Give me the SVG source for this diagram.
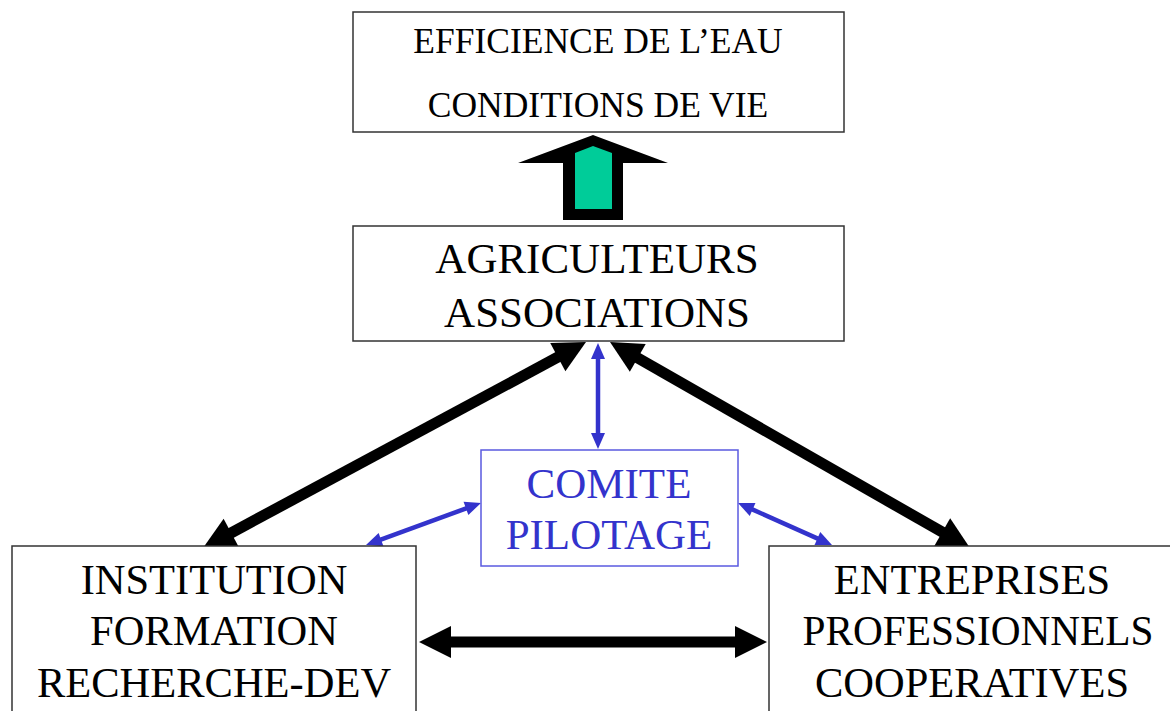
<svg xmlns="http://www.w3.org/2000/svg" width="1170" height="711" viewBox="0 0 1170 711">
<style>
.box{fill:#fff;stroke:#333;stroke-width:1.5}
.bbox{fill:#fff;stroke:#5a5ae0;stroke-width:1.5}
.t{font-family:"Liberation Serif","Times New Roman",serif;fill:#000;text-anchor:middle}
.tb{font-family:"Liberation Serif","Times New Roman",serif;fill:#3333cc;text-anchor:middle}
.blk{stroke:#000;stroke-width:11;fill:none;marker-start:url(#hb);marker-end:url(#hb)}
.blu{stroke:#3333cc;stroke-width:4.5;fill:none;marker-start:url(#hu);marker-end:url(#hu)}
</style>
<defs>
<marker id="hb" markerUnits="userSpaceOnUse" markerWidth="34" markerHeight="34" viewBox="0 -17 34 34" refX="2" refY="0" orient="auto-start-reverse" overflow="visible">
<path d="M0,-16 L32,0 L0,16 z" fill="#000"/>
</marker>
<marker id="hu" markerUnits="userSpaceOnUse" markerWidth="18" markerHeight="18" viewBox="0 -9 18 18" refX="1" refY="0" orient="auto-start-reverse" overflow="visible">
<path d="M0,-7 L16,0 L0,7 z" fill="#3333cc"/>
</marker>
</defs>
<g id="connectors">
<polygon points="593,135 668,163 623,163 623,220 563,220 563,163 518,163" fill="#000"/>
<polygon points="593,146 612,153 612,209 575,209 575,153" fill="#00cc99"/>
<line class="blk" x1="559.58" y1="356.21" x2="229.42" y2="533.79"/>
<line class="blk" x1="636.04" y1="356.90" x2="943.96" y2="533.10"/>
<line class="blk" x1="449" y1="642" x2="737" y2="642"/>
<line class="blu" x1="598" y1="358" x2="598" y2="434"/>
<line class="blu" x1="466.9" y1="508.1" x2="380.1" y2="539.9"/>
<line class="blu" x1="751.7" y1="509.1" x2="818.3" y2="538.9"/>
</g>
<g id="node-efficience">
<rect class="box" x="353" y="12" width="491" height="120"/>
<text class="t" x="598" y="53" font-size="35.5">EFFICIENCE DE L’EAU</text>
<text class="t" x="598" y="117" font-size="35.5">CONDITIONS DE VIE</text>
</g>
<g id="node-agriculteurs">
<rect class="box" x="353" y="226" width="491" height="115"/>
<text class="t" x="597" y="273" font-size="43">AGRICULTEURS</text>
<text class="t" x="597" y="327" font-size="43">ASSOCIATIONS</text>
</g>
<g id="node-comite">
<rect class="bbox" x="481" y="450" width="257" height="116"/>
<text class="tb" x="609" y="498" font-size="43">COMITE</text>
<text class="tb" x="609" y="549" font-size="43">PILOTAGE</text>
</g>
<g id="node-institution">
<rect class="box" x="12" y="546" width="404" height="180"/>
<text class="t" x="214" y="594" font-size="42.5">INSTITUTION</text>
<text class="t" x="214" y="645" font-size="42.5">FORMATION</text>
<text class="t" x="214" y="697" font-size="42.5">RECHERCHE-DEV</text>
</g>
<g id="node-entreprises">
<rect class="box" x="769" y="546" width="420" height="180"/>
<text class="t" x="972" y="594" font-size="42.5">ENTREPRISES</text>
<text class="t" x="978" y="645" font-size="41.3">PROFESSIONNELS</text>
<text class="t" x="972" y="697" font-size="42.5">COOPERATIVES</text>
</g>
</svg>
